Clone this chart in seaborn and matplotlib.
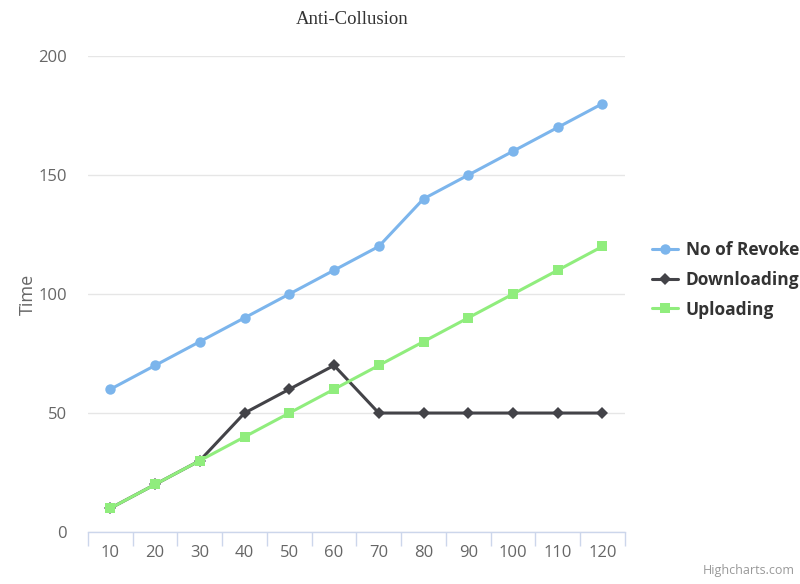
import matplotlib
matplotlib.use("Agg")
import matplotlib.pyplot as plt
import seaborn as sns
import numpy as np
import pandas as pd
from matplotlib.lines import Line2D

categories = ["10", "20", "30", "40", "50", "60", "70", "80", "90", "100", "110", "120"]
revoke = [60, 70, 80, 90, 100, 110, 120, 140, 150, 160, 170, 180]
downloading = [10, 20, 30, 50, 60, 70, 50, 50, 50, 50, 50, 50]
uploading = [10, 20, 30, 40, 50, 60, 70, 80, 90, 100, 110, 120]
yticks = [0, 50, 100, 150, 200]

series_names = ["No of Revoke", "Downloading", "Uploading"]
series_vals = [revoke, downloading, uploading]
colors = ["#7cb5ec", "#434348", "#90ed7d"]
markers = ["o", "D", "s"]
msizes = [7.5, 6, 7]

sns.set_theme(style="white")
plt.rcParams['font.family'] = ['Open Sans', 'DejaVu Sans']

fig = plt.figure(figsize=(8, 5.84), dpi=100)
ax = fig.add_axes([0.11, 0.089, 0.671, 0.815])

pos = np.arange(len(categories))
for name, vals, c, m, ms in zip(series_names, series_vals, colors, markers, msizes):
    df = pd.DataFrame({"x": pos, "y": vals})
    sns.lineplot(data=df, x="x", y="y", ax=ax, color=c, marker=m, markersize=ms,
                 markeredgewidth=0, linewidth=2.2, label=name, legend=False)

ax.set_xlim(-0.5, len(categories) - 0.5)
ax.set_ylim(0, 200)
ax.set_yticks(yticks)
ax.set_yticklabels([str(v) for v in yticks])
ax.set_xticks(pos)
ax.set_xticklabels(categories)
ax.tick_params(axis="x", which="major", bottom=True, length=0, pad=9, labelsize=12, labelcolor="#666666")
ax.tick_params(axis="y", length=0, pad=15, labelsize=12, labelcolor="#666666")

# tick marks at category boundaries
ax.set_xticks(np.arange(-0.5, len(categories), 1.0), minor=True)
ax.tick_params(axis="x", which="minor", bottom=True, length=10, width=1, color="#ccd6eb", direction="out")

ax.yaxis.grid(True, color="#e6e6e6", linewidth=1)
ax.xaxis.grid(False)
for s in ["top", "right", "left"]:
    ax.spines[s].set_visible(False)
ax.spines["bottom"].set_color("#ccd6eb")
ax.spines["bottom"].set_linewidth(1)
ax.set_axisbelow(True)

ax.set_xlabel("")
ax.set_ylabel("Time", fontsize=13, color="#666666")
ax.yaxis.set_label_coords(-0.095, 0.5)

fig.text(0.44, 0.966, "Anti-Collusion", ha="center", va="center",
         fontsize=13.5, family="Liberation Serif", color="#333333")

handles = [Line2D([0], [0], color=c, marker=m, markersize=ms, markeredgewidth=0, linewidth=2.2)
           for c, m, ms in zip(colors, markers, msizes)]
leg = fig.legend(handles, series_names, loc="center left", bbox_to_anchor=(0.815, 0.521),
                 frameon=False, handlelength=1.5, handletextpad=0.45, labelspacing=0.68,
                 borderaxespad=0, borderpad=0,
                 prop={"family": "Open Sans", "weight": "bold", "size": 12.5})
for t in leg.get_texts():
    t.set_color("#333333")

fig.text(0.993, 0.012, "Highcharts.com", ha="right", va="bottom", fontsize=9, color="#999999")

fig.savefig("out.png", dpi=100)
